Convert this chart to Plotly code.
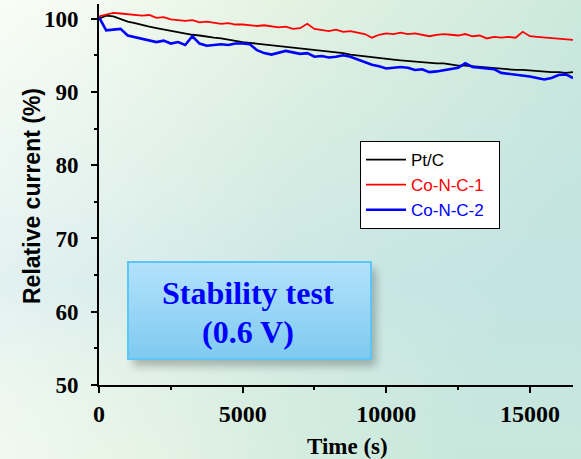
import base64
import plotly.graph_objects as go

# ---------------- data ----------------
TIME_S = list(range(0, 16501, 250))

PT_C = [100.0, 100.4, 100.3, 99.9, 99.6, 99.4, 99.1, 98.9, 98.7, 98.5,
        98.3, 98.1, 97.95, 97.8, 97.7, 97.5, 97.4, 97.3, 97.1, 97.0,
        96.8, 96.7, 96.6, 96.5, 96.4, 96.3, 96.1, 96.0, 95.9, 95.8,
        95.7, 95.6, 95.5, 95.4, 95.3, 95.1, 95.0, 94.9, 94.8, 94.6,
        94.5, 94.4, 94.3, 94.2, 94.1, 94.0, 94.0, 93.9, 93.9, 93.7,
        93.6, 93.6, 93.5, 93.4, 93.3, 93.3, 93.2, 93.1, 93.0, 93.0,
        92.9, 92.8, 92.8, 92.7, 92.7, 92.6, 92.7]

CO_N_C_1 = [100.3, 100.6, 100.8, 100.7, 100.6, 100.5, 100.4, 100.5, 100.1, 100.2,
            99.9, 99.8, 99.7, 99.8, 99.5, 99.6, 99.4, 99.3, 99.4, 99.2,
            99.2, 99.1, 99.0, 99.1, 98.9, 98.8, 98.9, 98.6, 98.7, 99.3,
            98.6, 98.4, 98.3, 98.5, 98.2, 98.3, 98.1, 97.9, 97.4, 97.8,
            98.0, 97.9, 98.1, 97.9, 98.0, 97.8, 97.6, 97.8, 97.9, 97.8,
            97.7, 97.9, 97.6, 97.7, 97.3, 97.5, 97.4, 97.5, 97.4, 98.2,
            97.6, 97.5, 97.4, 97.3, 97.3, 97.2, 97.1]

CO_N_C_2 = [100.2, 98.4, 98.5, 98.6, 97.7, 97.5, 97.3, 97.1, 96.8, 97.0,
            96.6, 96.8, 96.4, 97.6, 96.6, 96.3, 96.4, 96.5, 96.4, 96.6,
            96.6, 96.5, 95.7, 95.3, 95.1, 95.3, 95.6, 95.4, 95.2, 95.3,
            94.8, 94.9, 94.7, 94.8, 95.0, 94.8, 94.4, 94.0, 93.7, 93.5,
            93.2, 93.3, 93.4, 93.3, 93.0, 93.1, 92.7, 92.8, 93.0, 93.1,
            93.3, 93.9, 93.4, 93.3, 93.2, 93.1, 92.6, 92.5, 92.3, 92.2,
            92.1, 91.9, 91.7, 91.9, 92.3, 92.4, 91.9]

SERIES = [("Pt/C", PT_C, "#000000", 1.8),
          ("Co-N-C-1", CO_N_C_1, "#ff0000", 1.8),
          ("Co-N-C-2", CO_N_C_2, "#0000ff", 2.6)]

X_TICKS = [0, 5000, 10000, 15000]
Y_TICKS = [50, 60, 70, 80, 90, 100]

W, H = 581, 459
ML, MR, MT, MB = 99, 8, 4, 74
PW, PH = W - ML - MR, H - MT - MB

# ---------------- background (gradient svg) ----------------
bg_svg = f"""<svg xmlns='http://www.w3.org/2000/svg' width='{W}' height='{H}' viewBox='0 0 {W} {H}' preserveAspectRatio='none'>
<defs>
<linearGradient id='g1' x1='0' y1='0' x2='1' y2='0.3'>
<stop offset='0' stop-color='#f7fcf2'/>
<stop offset='0.45' stop-color='#e4f3e2'/>
<stop offset='1' stop-color='#c8e7dc'/>
</linearGradient>
<linearGradient id='g2' x1='0' y1='0' x2='0' y2='1'>
<stop offset='0' stop-color='#bfe0ea' stop-opacity='0'/>
<stop offset='0.45' stop-color='#bfe0ea' stop-opacity='0.35'/>
<stop offset='0.62' stop-color='#bfe0ea' stop-opacity='0.55'/>
<stop offset='0.85' stop-color='#bfe0ea' stop-opacity='0.15'/>
<stop offset='1' stop-color='#bfe0ea' stop-opacity='0'/>
</linearGradient>
<linearGradient id='g3' x1='0' y1='0' x2='1' y2='0'>
<stop offset='0' stop-color='#ffffff' stop-opacity='0.3'/>
<stop offset='0.5' stop-color='#ffffff' stop-opacity='0'/>
<stop offset='1' stop-color='#ffffff' stop-opacity='0'/>
</linearGradient>
</defs>
<rect width='{W}' height='{H}' fill='url(#g1)'/>
<rect width='{W}' height='{H}' fill='url(#g2)'/>
<rect width='{W}' height='{H}' fill='url(#g3)'/>
</svg>"""

box_svg = """<svg xmlns='http://www.w3.org/2000/svg' width='260' height='115' viewBox='0 0 260 115' preserveAspectRatio='none'>
<defs>
<linearGradient id='b' x1='0' y1='0' x2='0' y2='1'>
<stop offset='0' stop-color='#b3e2fb'/>
<stop offset='1' stop-color='#7ecaf1'/>
</linearGradient>
<filter id='s' x='-10%' y='-10%' width='130%' height='140%'>
<feGaussianBlur stdDeviation='4'/>
</filter>
</defs>
<rect x='6' y='8' width='243' height='97' fill='#000' opacity='0.25' filter='url(#s)'/>
<rect x='1' y='1' width='243' height='97' fill='url(#b)' stroke='#5ec6f4' stroke-width='2'/>
</svg>"""


def uri(svg):
    return "data:image/svg+xml;base64," + base64.b64encode(svg.encode()).decode()


def px_x(p):
    return (p - ML) / PW


def px_y(p):
    return (H - MB - p) / PH


fig = go.Figure()
for name, ys, col, lw in SERIES:
    fig.add_trace(go.Scatter(
        x=TIME_S, y=ys, mode="lines",
        name=f"<span style='color:{col}'>{name}</span>\u00a0\u00a0",
        line=dict(color=col, width=lw),
    ))

serif = "Liberation Serif, Times New Roman, serif"
sans = "Liberation Sans, Arial, sans-serif"

fig.update_layout(
    width=W, height=H,
    margin=dict(l=ML, r=MR, t=MT, b=MB, pad=0),
    paper_bgcolor="rgba(0,0,0,0)", plot_bgcolor="rgba(0,0,0,0)",
    showlegend=True,
    legend=dict(
        x=px_x(360), y=px_y(141), xanchor="left", yanchor="top",
        bgcolor="white", bordercolor="black", borderwidth=1,
        font=dict(family=sans, size=17, color="black"),
        itemwidth=40, tracegroupgap=0,
    ),
    images=[
        dict(source=uri(bg_svg), xref="paper", yref="paper",
             x=-ML / PW, y=(H - MB) / PH, sizex=W / PW, sizey=H / PH,
             xanchor="left", yanchor="top", sizing="stretch", layer="below"),
        dict(source=uri(box_svg), xref="paper", yref="paper",
             x=px_x(127), y=px_y(261),
             sizex=260 / PW, sizey=115 / PH,
             xanchor="left", yanchor="top", sizing="stretch", layer="below"),
    ],
    annotations=[
        dict(text="<b>Stability test</b>", xref="paper", yref="paper",
             x=px_x(248), y=px_y(293), showarrow=False,
             xanchor="center", yanchor="middle",
             font=dict(family=serif, size=32, color="#0000ff")),
        dict(text="<b>(0.6 V)</b>", xref="paper", yref="paper",
             x=px_x(248), y=px_y(332), showarrow=False,
             xanchor="center", yanchor="middle",
             font=dict(family=serif, size=32, color="#0000ff")),
        dict(text="<b>Time (s)</b>", xref="paper", yref="paper",
             x=px_x(347), y=px_y(446), showarrow=False,
             xanchor="center", yanchor="middle",
             font=dict(family=serif, size=23, color="black")),
        dict(text="<b>Relative current (%)</b>", xref="paper", yref="paper",
             x=px_x(32), y=px_y(196), showarrow=False, textangle=-90,
             xanchor="center", yanchor="middle",
             font=dict(family=sans, size=23, color="black")),
    ],
    xaxis=dict(
        range=[0, 16500], tickvals=X_TICKS, ticktext=[f"<b>{v}</b>" for v in X_TICKS],
        showline=True, linecolor="black", linewidth=2,
        ticks="outside", ticklen=6, tickwidth=2, tickcolor="black",
        minor=dict(dtick=2500, tick0=0, ticks="outside", ticklen=3, tickwidth=2, tickcolor="black"),
        showgrid=False, zeroline=False,
        tickfont=dict(family=serif, size=24, color="black"),
    ),
    yaxis=dict(
        range=[50, 102], tickvals=Y_TICKS, ticktext=[f"<b>{v}</b>" for v in Y_TICKS],
        showline=True, linecolor="black", linewidth=2,
        ticks="outside", ticklen=6, tickwidth=2, tickcolor="black",
        minor=dict(dtick=5, tick0=50, ticks="outside", ticklen=3, tickwidth=2, tickcolor="black"),
        showgrid=False, zeroline=False, ticklabelstandoff=8,
        tickfont=dict(family=serif, size=23, color="black"),
    ),
)

fig.write_html("out.html")
